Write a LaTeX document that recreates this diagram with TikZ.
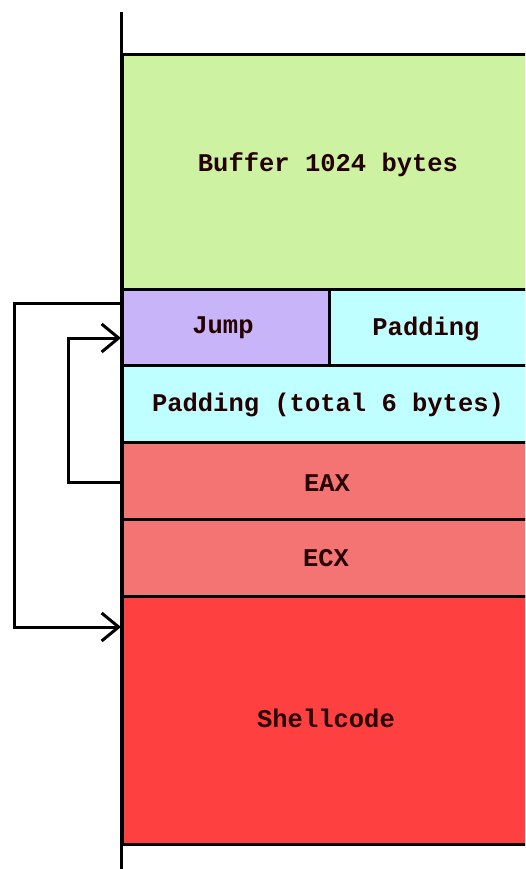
\documentclass[tikz,border=0pt]{standalone}
\usepackage{fontspec}
\setmainfont{Liberation Mono}
\usetikzlibrary{arrows.meta,calc}
\definecolor{bufc}{HTML}{CCF2A2}
\definecolor{jumpc}{HTML}{C8B4F8}
\definecolor{padc}{HTML}{C0FFFF}
\definecolor{regc}{HTML}{F47474}
\definecolor{shellc}{HTML}{FF4040}
\begin{document}
\begin{tikzpicture}[x=1pt,y=-1pt,
  cell/.style={draw=black,line width=3pt,rectangle,inner sep=0pt,anchor=north west},
  lbl/.style={font=\fontsize{25.5}{27}\selectfont\bfseries,text=black!85!red},
  arr/.style={line width=3pt,-{Straight Barb[length=17pt,width=28pt,line width=3pt]}}]
\clip (0,0) rectangle (525,869);
\fill[white] (0,0) rectangle (525,869);
\node[cell,fill=bufc,minimum width=419pt,minimum height=235pt] (buf) at (121,53) {};
\node[cell,fill=jumpc,minimum width=207pt,minimum height=76pt] (jump) at (121,288) {};
\node[cell,fill=padc,minimum width=212pt,minimum height=76pt] (pad) at (328,288) {};
\node[cell,fill=padc,minimum width=419pt,minimum height=77pt] (padt) at (121,364) {};
\node[cell,fill=regc,minimum width=419pt,minimum height=77pt] (eax) at (121,441) {};
\node[cell,fill=regc,minimum width=419pt,minimum height=77pt] (ecx) at (121,518) {};
\node[cell,fill=shellc,minimum width=419pt,minimum height=248pt] (shell) at (121,595) {};
\node[lbl] (tbuf) at (328,165) {Buffer 1024 bytes};
\node[lbl] (tjump) at (223,328) {Jump};
\node[lbl] (tpad) at (426,329) {Padding};
\node[lbl] (tpadt) at (328,405) {Padding (total 6 bytes)};
\node[lbl] (teax) at (327,483) {EAX};
\node[lbl] (tecx) at (326,558) {ECX};
\node[lbl] (tshell) at (326,718) {Shellcode};
\coordinate (vtop) at (121,12);
\coordinate (vbot) at (121,869);
\draw[line width=3pt] (vtop) -- (vbot);
\draw[arr] ($(jump.north west)+(0,15)$) -| (14,627) -- ($(shell.north west)+(0,32)$);
\draw[arr] ($(eax.north west)+(0,41)$) -| (68,338) -- ($(jump.north west)+(0,50)$);
\end{tikzpicture}
\end{document}
